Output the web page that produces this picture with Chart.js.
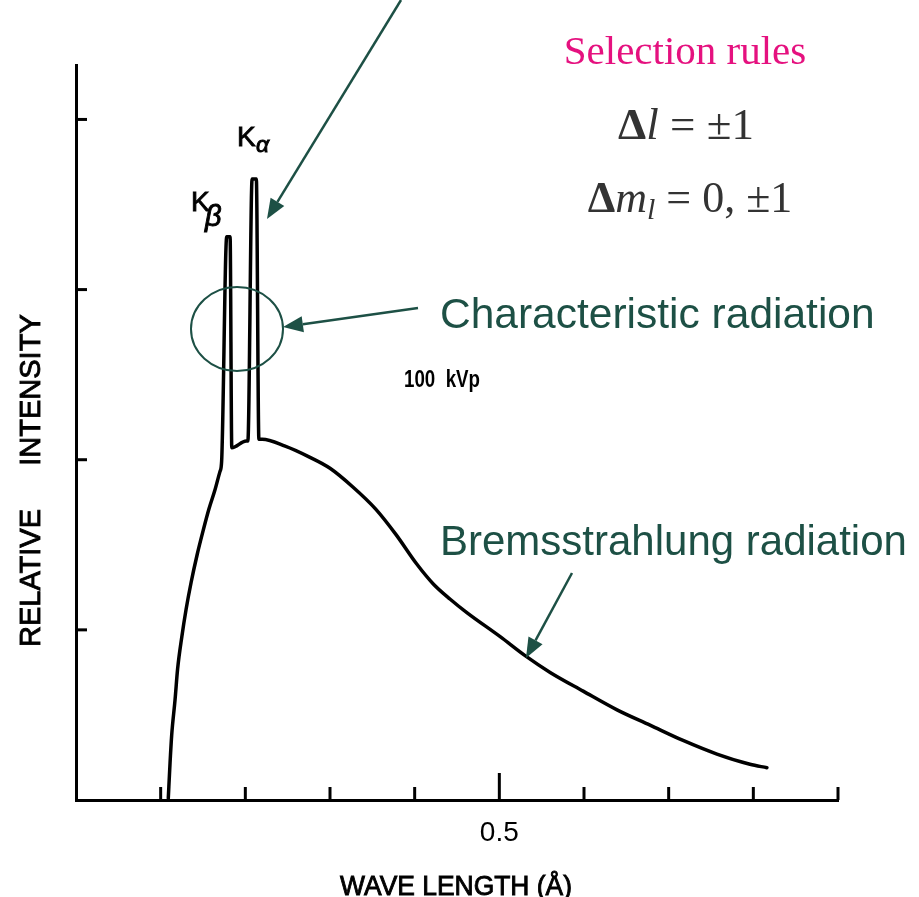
<!DOCTYPE html>
<html>
<head>
<meta charset="utf-8">
<title>X-ray spectrum, 100 kVp</title>
<script src="https://cdn.jsdelivr.net/npm/chart.js@4.4.1/dist/chart.umd.min.js"></script>
<style>
  html, body { margin: 0; padding: 0; background: #fff; }
  #wrap { width: 919px; height: 897px; position: relative; }
</style>
</head>
<body>
<div id="wrap"><canvas id="spectrum" width="919" height="897"></canvas></div>
<script>
// spectrum traced as (wavelength in Å, relative intensity)
const wavelength = [
  0.109, 0.111, 0.113, 0.117, 0.120, 0.125, 0.130, 0.136, 0.143, 0.150,
  0.157, 0.164, 0.170, 0.172, 0.178, 0.182, 0.184, 0.201, 0.203, 0.208,
  0.213, 0.216, 0.220, 0.247, 0.274, 0.300, 0.327, 0.354, 0.378, 0.402,
  0.422, 0.442, 0.462, 0.501, 0.530, 0.560, 0.599, 0.639, 0.678, 0.717,
  0.757, 0.796, 0.816
];
const intensity = [
  0.01, 0.21, 0.38, 0.59, 0.77, 0.96, 1.12, 1.28, 1.44, 1.58,
  1.71, 1.82, 1.93, 1.99, 3.31, 3.31, 2.07, 2.11, 2.11, 3.65,
  3.65, 2.12, 2.12, 2.08, 2.02, 1.95, 1.84, 1.71, 1.56, 1.39,
  1.27, 1.18, 1.10, 0.96, 0.85, 0.75, 0.64, 0.53, 0.44, 0.35,
  0.27, 0.21, 0.19
];
const xTickValues = [0.1, 0.2, 0.3, 0.4, 0.5, 0.6, 0.7, 0.8, 0.9];
const xTickLabels = { 0.5: "0.5" };
const yTickValues = [1, 2, 3, 4];

const GREEN = "#1d5045";
const SANS = '"Liberation Sans", Arial, sans-serif';
const SERIF = '"Liberation Serif", "Times New Roman", serif';

function arrow(ctx, x1, y1, x2, y2) {
  const ang = Math.atan2(y2 - y1, x2 - x1);
  const len = 20, half = 8;
  const bx = x2 - len * Math.cos(ang), by = y2 - len * Math.sin(ang);
  ctx.beginPath();
  ctx.moveTo(x1, y1);
  ctx.lineTo(bx, by);
  ctx.stroke();
  ctx.beginPath();
  ctx.moveTo(x2, y2);
  ctx.lineTo(bx + half * Math.sin(ang), by - half * Math.cos(ang));
  ctx.lineTo(bx - half * Math.sin(ang), by + half * Math.cos(ang));
  ctx.closePath();
  ctx.fill();
}

// draws a run of differently styled pieces centred on cx
function mixedText(ctx, parts, cx, baseline) {
  let total = 0;
  parts.forEach(p => { ctx.font = p.font; p.w = ctx.measureText(p.text).width; total += p.w; });
  let x = cx - total / 2;
  ctx.textAlign = "left";
  ctx.textBaseline = "alphabetic";
  parts.forEach(p => {
    ctx.font = p.font;
    ctx.fillText(p.text, x, baseline + (p.dy || 0));
    x += p.w;
  });
}

// scanned-looking black lettering: fill plus a thin outline
function inkText(ctx, text, x, y, maxW) {
  ctx.fillText(text, x, y, maxW);
  ctx.strokeText(text, x, y, maxW);
}

// inward tick marks on both axes
const axisTicks = {
  id: "axisTicks",
  afterDraw(chart) {
    const { ctx, scales: { x, y } } = chart;
    const base = y.getPixelForValue(0);
    const left = x.getPixelForValue(0);
    ctx.save();
    ctx.strokeStyle = "#000";
    ctx.lineWidth = 3;
    xTickValues.forEach(v => {
      const px = x.getPixelForValue(v);
      const h = xTickLabels[v] ? 27 : 13;
      ctx.beginPath();
      ctx.moveTo(px, base);
      ctx.lineTo(px, base - h);
      ctx.stroke();
    });
    yTickValues.forEach(v => {
      const py = y.getPixelForValue(v);
      ctx.beginPath();
      ctx.moveTo(left, py);
      ctx.lineTo(left + 11, py);
      ctx.stroke();
    });
    ctx.restore();
  }
};

// axis titles, peak labels and the slide notes
const notes = {
  id: "notes",
  afterDraw(chart) {
    const ctx = chart.ctx;
    ctx.save();

    // axis titles
    ctx.fillStyle = "#000";
    ctx.strokeStyle = "#000";
    ctx.lineWidth = 0.9;
    ctx.font = "29px " + SANS;
    ctx.textAlign = "center";
    ctx.textBaseline = "middle";
    ctx.save();
    ctx.translate(32, 0);
    ctx.rotate(-Math.PI / 2);
    inkText(ctx, "RELATIVE", -578, 0, 146);
    inkText(ctx, "INTENSITY", -390, 0, 157);
    ctx.restore();
    ctx.font = "27px " + SANS;
    ctx.textBaseline = "alphabetic";
    inkText(ctx, "WAVE LENGTH (Å)", 456, 895, 232);

    // peak labels
    ctx.textAlign = "left";
    ctx.font = "28px " + SANS;
    inkText(ctx, "K", 237, 146);
    inkText(ctx, "K", 191, 211);
    ctx.font = "italic 23px " + SANS;
    inkText(ctx, "α", 256, 152);
    ctx.font = "italic 29px " + SANS;
    inkText(ctx, "β", 205, 226);
    ctx.font = "bold 23px " + SANS;
    ctx.fillText("100  kVp", 404, 387, 76);

    // green annotations
    ctx.strokeStyle = GREEN;
    ctx.fillStyle = GREEN;
    ctx.lineWidth = 2.5;
    arrow(ctx, 401, 0, 267, 219);
    arrow(ctx, 418, 308, 283, 327);
    arrow(ctx, 572, 573, 526, 658);
    ctx.lineWidth = 2;
    ctx.beginPath();
    ctx.ellipse(237, 329, 46, 42, 0, 0, Math.PI * 2);
    ctx.stroke();
    ctx.font = "42.5px " + SANS;
    ctx.fillText("Characteristic radiation", 440, 328);
    ctx.font = "42px " + SANS;
    ctx.fillText("Bremsstrahlung radiation", 440, 555);

    // selection rules
    ctx.fillStyle = "#e5117f";
    ctx.font = "41px " + SERIF;
    ctx.textAlign = "center";
    ctx.fillText("Selection rules", 685, 64, 246);
    ctx.fillStyle = "#333";
    mixedText(ctx, [
      { text: "Δ", font: "bold 45px " + SERIF },
      { text: "l", font: "italic 45px " + SERIF },
      { text: " = ±1", font: "45px " + SERIF }
    ], 686, 139);
    mixedText(ctx, [
      { text: "Δ", font: "bold 44px " + SERIF },
      { text: "m", font: "italic 44px " + SERIF },
      { text: "l", font: "italic 30px " + SERIF, dy: 7 },
      { text: " = 0, ±1", font: "44px " + SERIF }
    ], 690, 212);

    ctx.restore();
  }
};

new Chart(document.getElementById("spectrum"), {
  type: "scatter",
  data: {
    datasets: [{
      data: wavelength.map((w, i) => ({ x: w, y: intensity[i] })),
      showLine: true,
      borderColor: "#000",
      borderWidth: 3.5,
      pointRadius: 0,
      cubicInterpolationMode: "monotone",
      borderCapStyle: "round",
      borderJoinStyle: "round"
    }]
  },
  options: {
    responsive: false,
    animation: false,
    events: [],
    layout: { padding: { left: 0, top: 65, right: 81, bottom: 0 } },
    plugins: { legend: { display: false }, tooltip: { enabled: false } },
    scales: {
      x: {
        type: "linear",
        min: 0,
        max: 0.9,
        afterFit(scale) { scale.height = 97; },
        afterBuildTicks(scale) { scale.ticks = xTickValues.map(v => ({ value: v })); },
        grid: { drawOnChartArea: false, drawTicks: false },
        border: { display: true, color: "#000", width: 3 },
        ticks: {
          autoSkip: false,
          maxRotation: 0,
          padding: 16,
          color: "#000",
          font: { family: SANS, size: 28 },
          callback: v => xTickLabels[Math.round(v * 10) / 10] || ""
        }
      },
      y: {
        type: "linear",
        min: 0,
        max: 4.32,
        afterFit(scale) { scale.width = 76; },
        grid: { drawOnChartArea: false, drawTicks: false },
        border: { display: true, color: "#000", width: 3 },
        ticks: { display: false }
      }
    }
  },
  plugins: [axisTicks, notes]
});
</script>
</body>
</html>
